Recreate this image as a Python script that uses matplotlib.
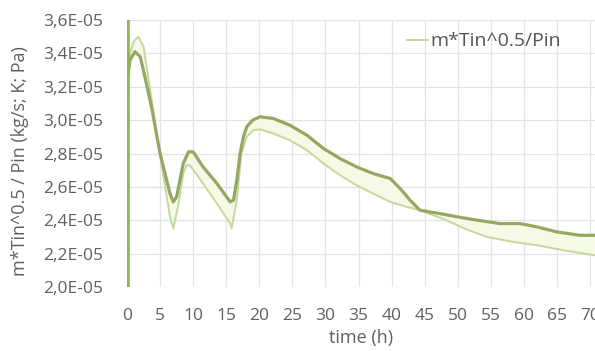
import numpy as np
import matplotlib
matplotlib.use("Agg")
import matplotlib.pyplot as plt
from matplotlib.ticker import FuncFormatter, MultipleLocator

# start-up spike at t = 0 (values in 1E-05 units)
t_spike = [0.0, 0.0]
v_spike = [2.0, 3.6]

# upper (darker) trace
t_dark = [0.1, 0.45, 1.2, 2.0, 2.7, 3.7, 5.0, 6.5, 7.0, 7.5, 8.5, 9.3, 10.0, 11.5,
          13.6, 15.6, 16.1, 16.6, 17.1, 17.6, 18.1, 19.0, 20.1, 22.1, 24.6, 27.2,
          29.7, 32.2, 34.7, 37.2, 39.8, 41.3, 42.8, 44.3, 47.3, 50.0, 53.0, 56.4,
          59.4, 62.0, 65.0, 68.5, 70.8]
v_dark = [3.25, 3.36, 3.41, 3.38, 3.26, 3.08, 2.80, 2.56, 2.51, 2.54, 2.74, 2.81,
          2.81, 2.72, 2.62, 2.51, 2.52, 2.64, 2.80, 2.90, 2.96, 3.00, 3.02, 3.01,
          2.97, 2.91, 2.83, 2.77, 2.72, 2.68, 2.65, 2.59, 2.52, 2.46, 2.44, 2.42,
          2.40, 2.38, 2.38, 2.36, 2.33, 2.31, 2.31]

# lighter trace (legend series)
t_light = [0.1, 0.45, 1.0, 1.7, 2.5, 3.2, 4.0, 5.0, 6.5, 7.0, 7.8, 8.5, 9.0, 9.5,
           11.5, 13.6, 15.6, 15.8, 16.6, 17.3, 18.1, 19.1, 20.1, 22.1, 24.6, 27.2,
           29.7, 32.2, 34.7, 37.2, 39.8, 42.3, 44.3, 48.3, 51.0, 54.4, 58.4, 62.0,
           66.0, 70.8]
v_light = [3.30, 3.40, 3.47, 3.50, 3.44, 3.26, 3.05, 2.79, 2.42, 2.35, 2.50, 2.68,
           2.73, 2.73, 2.62, 2.50, 2.38, 2.35, 2.52, 2.80, 2.90, 2.94, 2.945, 2.92,
           2.88, 2.82, 2.74, 2.67, 2.61, 2.56, 2.51, 2.48, 2.46, 2.40, 2.35, 2.30,
           2.27, 2.25, 2.22, 2.19]

scale = 1e-5
label = "m*Tin^0.5/Pin"
grey = "#606060"

plt.rcParams['font.family'] = ['Open Sans', 'DejaVu Sans']

fig = plt.figure(figsize=(5.95, 3.51), dpi=100)
ax = fig.add_axes([127 / 595, 1 - 287 / 351, 468 / 595, 267 / 351])

td, vd = np.array(t_dark), np.array(v_dark) * scale
tl, vl = np.array(t_light), np.array(v_light) * scale

# pale band between the two traces
ax.fill(np.concatenate([td, tl[::-1]]), np.concatenate([vd, vl[::-1]]),
        color="#f6f9e6", lw=0, zorder=1)
ax.plot(tl, vl, color="#c3d89c", lw=1.4, zorder=3, label=label,
        solid_joinstyle="round")
ax.plot(td, vd, color="#94a862", lw=2.3, zorder=4, solid_joinstyle="round")
ax.plot(t_spike, np.array(v_spike) * scale, color="#8fb450", lw=4,
        solid_capstyle="butt", zorder=5)

ax.set_xlim(0, 70.75)
ax.set_ylim(2.0e-5, 3.6e-5)
ax.xaxis.set_major_locator(MultipleLocator(5))
ax.yaxis.set_major_locator(MultipleLocator(0.2e-5))
ax.yaxis.set_major_formatter(FuncFormatter(
    lambda v, pos: f"{v / scale:.1f}E-05".replace(".", ",")))

ax.grid(True, color="#e3e3e3", lw=0.9)
ax.set_axisbelow(True)
for s in ax.spines.values():
    s.set_visible(False)
ax.tick_params(length=0, labelsize=12.5, labelcolor=grey)
ax.tick_params(axis="x", pad=15)
ax.tick_params(axis="y", pad=17)

ax.set_xlabel("time (h)", fontsize=13, color=grey, labelpad=4)
ax.set_ylabel("m*Tin^0.5 / Pin (kg/s; K; Pa)", fontsize=13, color=grey)
ax.yaxis.set_label_coords(-0.21, 0.47)

leg = ax.legend(loc="center left", bbox_to_anchor=(0.56, 0.92), frameon=False,
                handlelength=1.1, handletextpad=0.1, fontsize=14)
for txt in leg.get_texts():
    txt.set_color("#555555")

fig.savefig("out.png", dpi=100)
